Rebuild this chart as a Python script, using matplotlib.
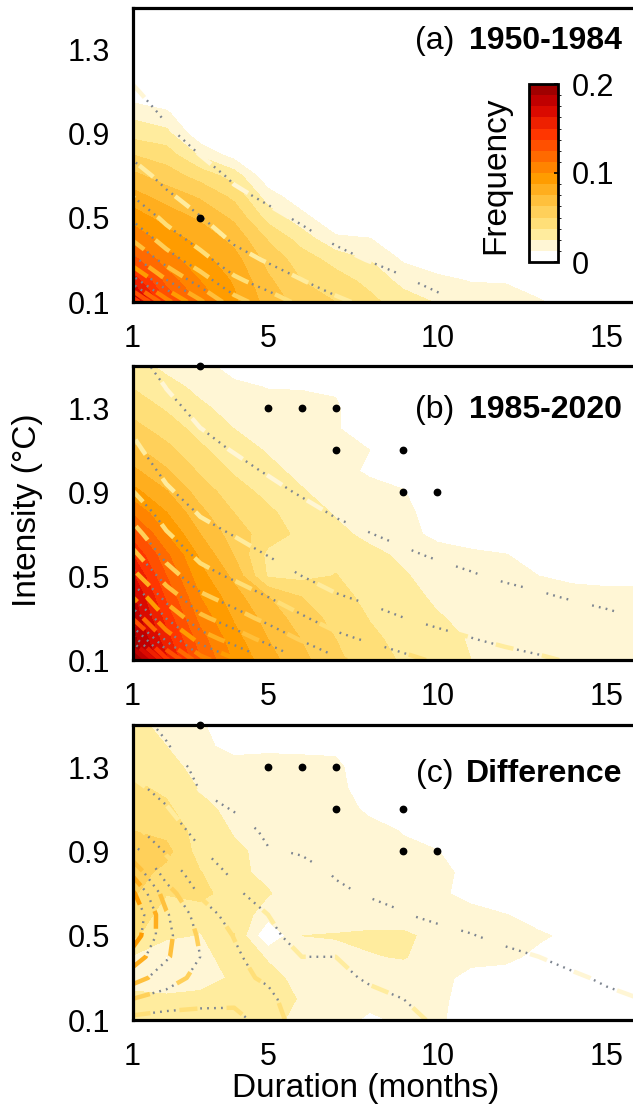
import numpy as np
import matplotlib
matplotlib.use("Agg")
import matplotlib.pyplot as plt
from matplotlib.colors import ListedColormap, BoundaryNorm

plt.rcParams['font.family'] = ['Liberation Sans', 'DejaVu Sans']
plt.rcParams['lines.scale_dashes'] = False

# ---------------- data ----------------
duration = [1, 2, 3, 4, 5, 6, 7, 8, 9, 10, 11, 12, 13, 14, 15, 16]          # months
intensity = [0.1, 0.2, 0.3, 0.4, 0.5, 0.6, 0.7, 0.8, 0.9, 1.0, 1.1, 1.2, 1.3, 1.4, 1.5]  # degC

# frequency, rows = intensity (0.1 -> 1.5), cols = duration (1 -> 16)
freq_a = [
    [0.188, 0.138, 0.110, 0.090, 0.070, 0.057, 0.050, 0.041, 0.031, 0.024, 0.019, 0.016, 0.014, 0.006, 0, 0],
    [0.160, 0.120, 0.100, 0.086, 0.065, 0.050, 0.043, 0.034, 0.021, 0.016, 0.012, 0.012, 0.005, 0, 0, 0],
    [0.130, 0.106, 0.092, 0.080, 0.058, 0.044, 0.033, 0.025, 0.011, 0.005, 0.002, 0, 0, 0, 0, 0],
    [0.110, 0.094, 0.083, 0.071, 0.049, 0.032, 0.015, 0.013, 0.004, 0, 0, 0, 0, 0, 0, 0],
    [0.095, 0.082, 0.073, 0.060, 0.033, 0.017, 0.002, 0, 0, 0, 0, 0, 0, 0, 0, 0],
    [0.080, 0.070, 0.061, 0.047, 0.019, 0.004, 0, 0, 0, 0, 0, 0, 0, 0, 0, 0],
    [0.066, 0.056, 0.045, 0.032, 0.003, 0, 0, 0, 0, 0, 0, 0, 0, 0, 0, 0],
    [0.050, 0.044, 0.023, 0.007, 0, 0, 0, 0, 0, 0, 0, 0, 0, 0, 0, 0],
    [0.033, 0.029, 0.003, 0, 0, 0, 0, 0, 0, 0, 0, 0, 0, 0, 0, 0],
    [0.021, 0.014, 0, 0, 0, 0, 0, 0, 0, 0, 0, 0, 0, 0, 0, 0],
    [0.003, 0.002, 0, 0, 0, 0, 0, 0, 0, 0, 0, 0, 0, 0, 0, 0],
    [0, 0, 0, 0, 0, 0, 0, 0, 0, 0, 0, 0, 0, 0, 0, 0],
    [0, 0, 0, 0, 0, 0, 0, 0, 0, 0, 0, 0, 0, 0, 0, 0],
    [0, 0, 0, 0, 0, 0, 0, 0, 0, 0, 0, 0, 0, 0, 0, 0],
    [0, 0, 0, 0, 0, 0, 0, 0, 0, 0, 0, 0, 0, 0, 0, 0],
]

freq_b = [
    [0.198, 0.165, 0.125, 0.098, 0.080, 0.066, 0.053, 0.043, 0.036, 0.030, 0.025, 0.022, 0.020, 0.018, 0.016, 0.015],
    [0.192, 0.155, 0.118, 0.092, 0.075, 0.062, 0.050, 0.040, 0.034, 0.029, 0.024, 0.021, 0.019, 0.017, 0.016, 0.015],
    [0.185, 0.145, 0.108, 0.086, 0.070, 0.056, 0.046, 0.037, 0.032, 0.026, 0.022, 0.020, 0.018, 0.016, 0.015, 0.014],
    [0.178, 0.135, 0.100, 0.080, 0.063, 0.050, 0.042, 0.034, 0.029, 0.023, 0.020, 0.018, 0.016, 0.015, 0.014, 0.014],
    [0.165, 0.125, 0.092, 0.072, 0.036, 0.034, 0.038, 0.031, 0.026, 0.021, 0.018, 0.016, 0.0125, 0.011, 0.011, 0.011],
    [0.150, 0.115, 0.085, 0.062, 0.034, 0.032, 0.034, 0.028, 0.023, 0.018, 0.015, 0.013, 0.008, 0.004, 0, 0],
    [0.132, 0.100, 0.075, 0.056, 0.044, 0.034, 0.028, 0.022, 0.017, 0.009, 0.006, 0.003, 0, 0, 0, 0],
    [0.112, 0.088, 0.066, 0.050, 0.040, 0.031, 0.024, 0.019, 0.015, 0.008, 0.003, 0, 0, 0, 0, 0],
    [0.092, 0.076, 0.057, 0.043, 0.034, 0.026, 0.020, 0.016, 0.013, 0.006, 0, 0, 0, 0, 0, 0],
    [0.078, 0.064, 0.048, 0.036, 0.028, 0.022, 0.016, 0.011, 0.009, 0.002, 0, 0, 0, 0, 0, 0],
    [0.066, 0.054, 0.040, 0.030, 0.024, 0.019, 0.015, 0.0125, 0.003, 0, 0, 0, 0, 0, 0, 0],
    [0.055, 0.044, 0.033, 0.025, 0.020, 0.016, 0.014, 0.004, 0, 0, 0, 0, 0, 0, 0, 0],
    [0.045, 0.036, 0.027, 0.021, 0.017, 0.015, 0.014, 0.003, 0, 0, 0, 0, 0, 0, 0, 0],
    [0.037, 0.029, 0.022, 0.015, 0.012, 0.012, 0.011, 0, 0, 0, 0, 0, 0, 0, 0, 0],
    [0.030, 0.022, 0.016, 0.008, 0, 0, 0, 0, 0, 0, 0, 0, 0, 0, 0, 0],
]

freq_c = [
    [0.030, 0.030, 0.028, 0.027, 0.028, 0.022, 0.016, 0.011, 0.014, 0.015, 0.005, 0, 0, 0, 0, 0.014],
    [0.028, 0.028, 0.027, 0.027, 0.030, 0.024, 0.018, 0.015, 0.016, 0.016, 0.006, 0, 0, 0, 0, 0.010],
    [0.020, 0.015, 0.022, 0.026, 0.028, 0.022, 0.018, 0.016, 0.017, 0.016, 0.009, 0.008, 0, 0, 0, 0],
    [0.024, 0.012, 0.020, 0.032, 0.024, 0.018, 0.020, 0.024, 0.026, 0.018, 0.016, 0.015, 0.010, 0, 0, 0],
    [0.040, 0.028, 0.024, 0.038, 0.000, 0.025, 0.026, 0.028, 0.028, 0.020, 0.018, 0.016, 0.014, 0.010, 0, 0],
    [0.046, 0.032, 0.030, 0.034, 0.018, 0.016, 0.017, 0.016, 0.016, 0.016, 0.015, 0.013, 0.008, 0, 0, 0],
    [0.052, 0.038, 0.042, 0.030, 0.026, 0.017, 0.016, 0.016, 0.015, 0.014, 0.010, 0, 0, 0, 0, 0],
    [0.056, 0.046, 0.038, 0.028, 0.022, 0.017, 0.016, 0.015, 0.014, 0.014, 0.011, 0, 0, 0, 0, 0],
    [0.060, 0.054, 0.032, 0.027, 0.022, 0.017, 0.016, 0.015, 0.014, 0.013, 0.005, 0, 0, 0, 0, 0],
    [0.050, 0.046, 0.032, 0.024, 0.020, 0.017, 0.016, 0.015, 0.012, 0.006, 0, 0, 0, 0, 0, 0],
    [0.042, 0.040, 0.028, 0.022, 0.019, 0.017, 0.016, 0.011, 0.004, 0, 0, 0, 0, 0, 0, 0],
    [0.040, 0.035, 0.024, 0.020, 0.018, 0.016, 0.015, 0.008, 0, 0, 0, 0, 0, 0, 0, 0],
    [0.035, 0.030, 0.020, 0.018, 0.017, 0.016, 0.015, 0.005, 0, 0, 0, 0, 0, 0, 0, 0],
    [0.030, 0.025, 0.016, 0.008, 0.010, 0.010, 0.010, 0, 0, 0, 0, 0, 0, 0, 0, 0],
    [0.030, 0.020, 0.014, 0.005, 0, 0, 0, 0, 0, 0, 0, 0, 0, 0, 0, 0],
]

# fitted distributions (dashed/dotted contour lines)
# panels (a) and (b): separable duration and intensity factors
fit_dur_a = [0.130, 0.093, 0.069, 0.049, 0.039, 0.031, 0.0243, 0.020, 0.0163, 0.0128, 0.010, 0.0078, 0.006, 0.0046, 0.0035, 0.0027]
fit_int_a = [1.12, 0.82, 0.61, 0.47, 0.37, 0.29, 0.23, 0.18, 0.146, 0.122, 0.102, 0.085, 0.072, 0.060, 0.050]
fit_dur_b = [0.200, 0.140, 0.105, 0.089, 0.075, 0.0625, 0.052, 0.046, 0.0405, 0.036, 0.0325, 0.029, 0.0265, 0.024, 0.022, 0.020]
fit_int_b = [1.0, 0.78, 0.62, 0.50, 0.40, 0.33, 0.275, 0.23, 0.19, 0.16, 0.137, 0.12, 0.102, 0.088, 0.074]
# panel (c): fitted difference
fit_c = [
    [0.034, 0.032, 0.032, 0.034, 0.042, 0.033, 0.032, 0.030, 0.027, 0.024, 0.022, 0.020, 0.018, 0.017, 0.0155, 0.0145],
    [0.050, 0.045, 0.042, 0.040, 0.040, 0.031, 0.029, 0.027, 0.025, 0.022, 0.020, 0.018, 0.0165, 0.015, 0.0135, 0.0125],
    [0.068, 0.056, 0.046, 0.040, 0.036, 0.028, 0.027, 0.024, 0.022, 0.020, 0.018, 0.016, 0.0145, 0.0132, 0.0118, 0.011],
    [0.082, 0.064, 0.050, 0.040, 0.030, 0.025, 0.025, 0.021, 0.019, 0.017, 0.0155, 0.014, 0.0125, 0.011, 0.010, 0.009],
    [0.095, 0.066, 0.048, 0.037, 0.027, 0.022, 0.021, 0.018, 0.016, 0.0145, 0.0128, 0.011, 0.010, 0.009, 0.008, 0.007],
    [0.100, 0.064, 0.044, 0.032, 0.025, 0.020, 0.018, 0.0145, 0.0128, 0.011, 0.010, 0.009, 0.008, 0.007, 0.006, 0.005],
    [0.090, 0.056, 0.036, 0.027, 0.020, 0.017, 0.0135, 0.012, 0.011, 0.010, 0.009, 0.008, 0.007, 0.006, 0.005, 0.004],
    [0.072, 0.044, 0.031, 0.023, 0.016, 0.0145, 0.012, 0.011, 0.010, 0.009, 0.008, 0.007, 0.006, 0.005, 0.004, 0.003],
    [0.055, 0.036, 0.026, 0.019, 0.013, 0.012, 0.011, 0.010, 0.009, 0.008, 0.007, 0.006, 0.005, 0.004, 0.003, 0.003],
    [0.040, 0.031, 0.021, 0.016, 0.011, 0.010, 0.009, 0.008, 0.007, 0.006, 0.005, 0.005, 0.004, 0.003, 0.003, 0.002],
    [0.034, 0.026, 0.016, 0.012, 0.009, 0.008, 0.007, 0.006, 0.005, 0.005, 0.004, 0.004, 0.003, 0.003, 0.002, 0.002],
    [0.028, 0.021, 0.012, 0.010, 0.008, 0.007, 0.006, 0.005, 0.004, 0.004, 0.003, 0.003, 0.003, 0.002, 0.002, 0.002],
    [0.022, 0.017, 0.010, 0.008, 0.006, 0.005, 0.005, 0.004, 0.003, 0.003, 0.003, 0.002, 0.002, 0.002, 0.002, 0.001],
    [0.018, 0.013, 0.008, 0.006, 0.005, 0.004, 0.004, 0.003, 0.003, 0.002, 0.002, 0.002, 0.002, 0.001, 0.001, 0.001],
    [0.015, 0.011, 0.006, 0.005, 0.004, 0.003, 0.003, 0.003, 0.002, 0.002, 0.002, 0.001, 0.001, 0.001, 0.001, 0.001],
]

# significance markers
sig_a_dur = [3]
sig_a_int = [0.5]
sig_b_dur = [3, 5, 6, 7, 7, 9, 9, 10]
sig_b_int = [1.5, 1.3, 1.3, 1.3, 1.1, 1.1, 0.9, 0.9]

panel_tags = ['(a)', '(b)', '(c)']
panel_titles = ['1950-1984', '1985-2020', 'Difference']

# ---------------- style ----------------
band_colors = ['#FFFFFF', '#FFF6D5', '#FFEC9E', '#FFDF78', '#FFD05A', '#FFC03C',
               '#FFAE1E', '#FF9C00', '#FF8400', '#FF6A00', '#FF5000', '#FF3600',
               '#EE2000', '#DA0A00', '#C00000', '#A00000']
levels = np.linspace(0, 0.2, 17)
cmap = ListedColormap(band_colors)
norm = BoundaryNorm(levels, cmap.N)

W, H = 633, 1108
fig = plt.figure(figsize=(W / 100, H / 100), dpi=100)

def fx(px):
    return px / W

def fy(py):
    return 1 - py / H

left_px, right_px = 132.5, 640.5
panels = [(7.5, 302), (366, 660), (725, 1020)]
title_py = [41, 410, 774]

fits = [np.outer(fit_int_a, fit_dur_a), np.outer(fit_int_b, fit_dur_b), np.array(fit_c)]
fields = [np.array(freq_a), np.array(freq_b), np.array(freq_c)]
sigs = [(sig_a_dur, sig_a_int), (sig_b_dur, sig_b_int), (sig_b_dur, sig_b_int)]

FS = 22
dot_pattern = (19, (1.3, 3.7, 1.3, 3.7, 1.3, 3.7, 1.3, 17.7))
dash_pattern = (0, (13, 21))

cf_first = None
for i, (top, bot) in enumerate(panels):
    ax = fig.add_axes([fx(left_px), fy(bot), fx(right_px - left_px), (bot - top) / H])
    cf = ax.contourf(duration, intensity, fields[i], levels=levels, cmap=cmap, norm=norm, zorder=1)
    if cf_first is None:
        cf_first = cf
    pos_levels = levels[1:-1]
    fit = fits[i]
    ax.contour(duration, intensity, fit, levels=pos_levels, cmap=cmap, norm=norm,
               linewidths=3.2, linestyles=[dash_pattern], zorder=2)
    ax.contour(duration, intensity, fit, levels=pos_levels, colors='#7d8590',
               linewidths=1.7, linestyles=[dot_pattern], zorder=3)
    ax.plot(sigs[i][0], sigs[i][1], 'o', color='black', ms=4.6, clip_on=False, zorder=6)
    ax.set_xlim(1, 16)
    ax.set_ylim(0.1, 1.5)
    ax.set_xticks([1, 5, 10, 15])
    ax.set_yticks([0.1, 0.5, 0.9, 1.3])
    ax.set_yticklabels(['0.1', '0.5', '0.9', '1.3'])
    ax.tick_params(length=0, labelsize=FS, pad=16)
    for s in ax.spines.values():
        s.set_linewidth(2.3)
        s.set_zorder(10)
    fig.text(fx(622), fy(title_py[i]), panel_titles[i], ha='right', va='center',
             fontsize=23, fontweight='bold', zorder=7)
    fig.text(fx(454), fy(title_py[i]), panel_tags[i], ha='right', va='center',
             fontsize=23, zorder=7)

# colorbar inside panel (a)
cax = fig.add_axes([fx(529), fy(262), fx(29), 178 / H])
cb = fig.colorbar(cf_first, cax=cax, ticks=[0, 0.1, 0.2])
cb.ax.set_yticklabels(['0', '0.1', '0.2'])
cb.ax.tick_params(direction='in', length=3, width=1.2, labelsize=FS, pad=10)
cb.outline.set_linewidth(2.0)
fig.text(fx(496), fy(175), 'Frequency', rotation=90, ha='center', va='center', fontsize=24)

fig.text(fx(28), fy(510), 'Intensity (°C)', rotation=90, ha='center', va='center', fontsize=24)
fig.text(fx(366), fy(1088), 'Duration (months)', ha='center', va='center', fontsize=24)

fig.savefig('out.png', dpi=100)
